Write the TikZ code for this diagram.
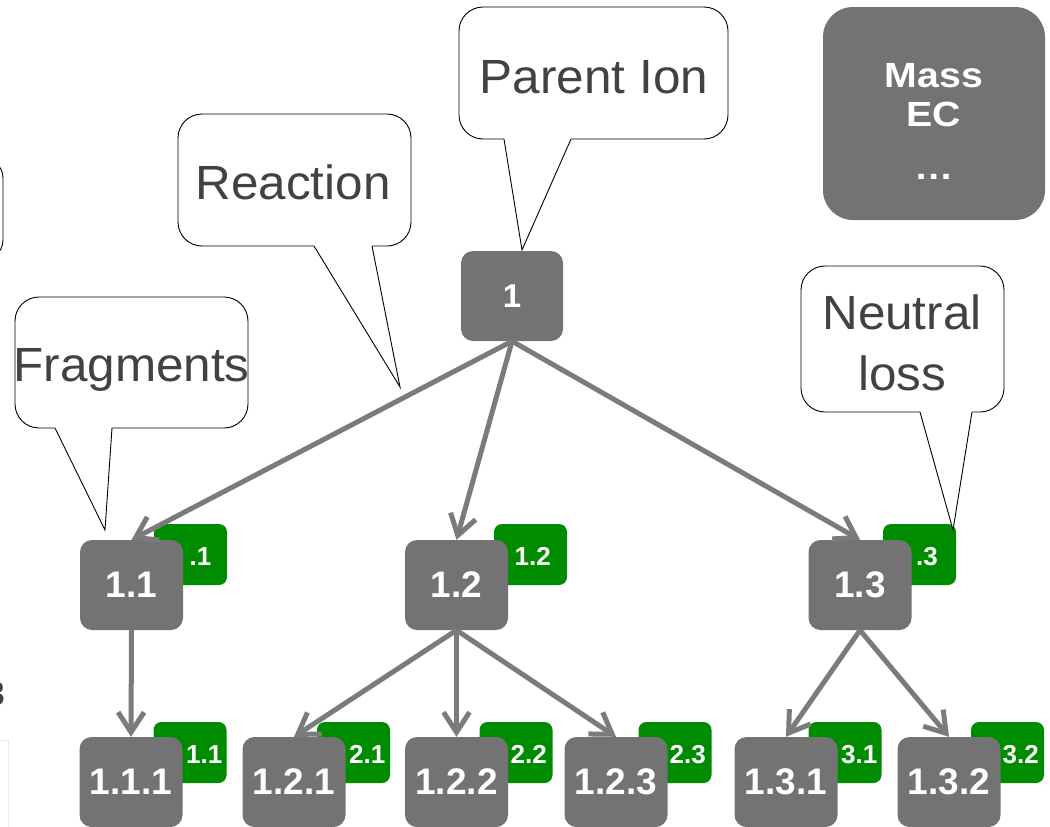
\documentclass[tikz,border=0pt]{standalone}
\usepackage{fontspec}
\setmainfont{Liberation Sans}
\newfontfamily\lsreg{Liberation Sans}[FakeStretch=1.03]
\newfontfamily\lsbold{Liberation Sans}[FakeStretch=1.12]
\newfontfamily\lsdigit{Liberation Sans}
\usetikzlibrary{arrows.meta}
\definecolor{nodegray}{HTML}{737373}
\definecolor{arrowgray}{HTML}{7B7B7B}
\definecolor{taggreen}{HTML}{008C00}
\definecolor{txtgray}{HTML}{424242}
\definecolor{faint}{HTML}{EBEBEB}
% callout: L T R B tailA tailB tipx tipy
\newcommand{\callbox}[8]{%
  \draw[callbody] (#1,#2) rectangle (#3,#4);
  \fill[white] (#5,#4-1.5) rectangle (#6,#4+1.5);
  \fill[white] (#5,#4) -- (#7,#8) -- (#6,#4) -- cycle;
  \draw[callline] (#5,#4) -- (#7,#8) -- (#6,#4);
}
\begin{document}
\begin{tikzpicture}[x=1pt,y=-1pt,
  ion/.style={fill=nodegray, rounded corners=12pt, minimum width=103pt, minimum height=90pt, inner sep=0pt, text=white, font=\lsdigit\bfseries\fontsize{37}{39}\selectfont},
  tagbox/.style={fill=taggreen, rounded corners=8pt, minimum width=73pt, minimum height=61pt, inner sep=0pt},
  tagtxt/.style={text=white, inner sep=0pt, anchor=base east, font=\lsdigit\bfseries\fontsize{26}{28}\selectfont},
  link/.style={draw=arrowgray, line width=5pt, -{Straight Barb[length=20pt,width=26pt]}},
  callbody/.style={draw=black, line width=0.9pt, fill=white, rounded corners=24pt},
  callline/.style={draw=black, line width=0.9pt, line join=miter},
  calltxt/.style={text=txtgray, inner sep=0pt, align=center, font=\lsreg\fontsize{48}{61}\selectfont},
]
\useasboundingbox (0,0) rectangle (1050,827);
\clip (0,0) rectangle (1050,827);

% cut-off items at the left edge
\draw[line width=0.9pt, rounded corners=20pt] (-60,158) rectangle (3,260);
\draw[faint, line width=1pt] (-5,740) -- (8,740) -- (8,835);
\node[text=txtgray, font=\lsdigit\bfseries\fontsize{34}{36}\selectfont, anchor=base east, inner sep=0pt] (cut3) at (5,705) {3};

% green tags
\node[tagbox] (g11) at (190.5,554.5) {};
\node[tagbox] (g12) at (530.5,554.5) {};
\node[tagbox] (g13) at (919.5,554.5) {};
\node[tagbox] (g111) at (190,752.5) {};
\node[tagbox] (g121) at (353.5,752.5) {};
\node[tagbox] (g122) at (516,752.5) {};
\node[tagbox] (g123) at (675,752.5) {};
\node[tagbox] (g131) at (845,752.5) {};
\node[tagbox] (g132) at (1007.5,752.5) {};
\node[tagtxt] (t11) at (211.5,565) {.1};
\node[tagtxt] (t12) at (551,565) {1.2};
\node[tagtxt] (t13) at (938,565) {.3};
\node[tagtxt] (t111) at (222.5,763) {1.1};
\node[tagtxt] (t121) at (385.5,763) {2.1};
\node[tagtxt] (t122) at (547,763) {2.2};
\node[tagtxt] (t123) at (706,763) {2.3};
\node[tagtxt] (t131) at (877.5,763) {3.1};
\node[tagtxt] (t132) at (1039,763) {3.2};

% grey ion nodes
\node[ion, minimum width=102pt, font=\lsdigit\bfseries\fontsize{33}{35}\selectfont] (n1) at (512,296) {1};
\node[ion] (n11) at (131.5,585) {1.1};
\node[ion] (n12) at (456.5,585) {1.2};
\node[ion] (n13) at (860,585) {1.3};
\node[ion] (n111) at (131,782) {1.1.1};
\node[ion] (n121) at (294,782) {1.2.1};
\node[ion] (n122) at (456.5,782) {1.2.2};
\node[ion] (n123) at (616,782) {1.2.3};
\node[ion] (n131) at (786,782) {1.3.1};
\node[ion] (n132) at (949,782) {1.3.2};

% arrows
\draw[link] (n1.south) -- (n11.north);
\draw[link] (n1.south) -- (n12.north);
\draw[link] (n1.south) -- (n13.north);
\draw[link] (n11.south) -- (n111.north);
\draw[link] (n12.south) -- (n121.north);
\draw[link] (n12.south) -- (n122.north);
\draw[link] (n12.south) -- (n123.north);
\draw[link] (n13.south) -- (n131.north);
\draw[link] (n13.south) -- (n132.north);

% callouts
\callbox{459}{7}{728}{139}{504}{571}{522}{250}
\node[calltxt, anchor=base] (parentlbl) at (594,93) {Parent Ion};
\callbox{178}{114}{411}{246}{314}{372}{400}{387}
\node[calltxt, anchor=base] (reactlbl) at (293,199) {Reaction};
\callbox{15}{297}{248}{428}{55}{112}{105}{530}
\node[calltxt, anchor=base] (fraglbl) at (131.5,381) {Fragments};
\callbox{801}{266}{1004}{412}{920}{972}{953}{530}
\node[calltxt] (neutlbl) at (902,343) {Neutral\\loss};

% property box
\node[fill=nodegray, rounded corners=30pt, minimum width=222pt, minimum height=213pt, inner sep=0pt, text=white, align=center, font=\lsbold\bfseries\fontsize{35}{39}\selectfont] (mass) at (934,113.5) {\rule{0pt}{40pt}Mass\\EC\\[14pt]…};
\end{tikzpicture}
\end{document}
